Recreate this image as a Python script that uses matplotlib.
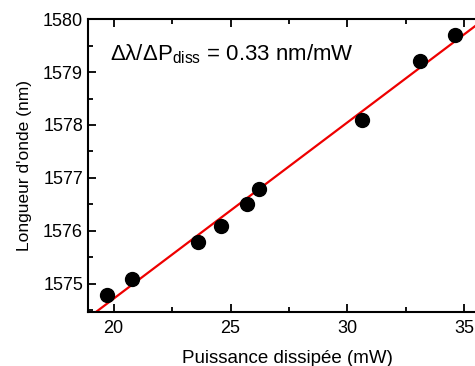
import numpy as np
import matplotlib
matplotlib.use("Agg")
import matplotlib.pyplot as plt
from matplotlib.ticker import MultipleLocator

plt.rcParams['font.family'] = ['Liberation Sans', 'DejaVu Sans']
plt.rcParams['mathtext.fontset'] = 'custom'
plt.rcParams['mathtext.rm'] = 'Liberation Sans'

power = [19.7, 20.8, 23.6, 24.6, 25.7, 26.2, 30.6, 33.1, 34.6]
wavelength = [1574.8, 1575.1, 1575.8, 1576.1, 1576.5, 1576.8, 1578.1, 1579.2, 1579.7]
slope_label = "0.33 nm/mW"

fig = plt.figure(figsize=(4.75, 3.66), dpi=100)
ax = fig.add_axes([0.185, 0.1475, 0.842, 0.8005])

ax.plot(power, wavelength, 'o', color='black', markersize=10, zorder=3)
coef = np.polyfit(power, wavelength, 1)
xf = np.array([18.0, 37.0])
ax.plot(xf, np.polyval(coef, xf), color='#ee0000', lw=1.6, zorder=2)

ax.set_xlim(18.9, 36)
ax.set_ylim(1574.47, 1580)
ax.xaxis.set_major_locator(MultipleLocator(5))
ax.xaxis.set_minor_locator(MultipleLocator(2.5))
ax.yaxis.set_major_locator(MultipleLocator(1))
ax.yaxis.set_minor_locator(MultipleLocator(0.5))
ax.tick_params(which='both', direction='in', top=True, right=True, width=1.3, labelsize=13)
ax.tick_params(which='major', length=6)
ax.tick_params(which='minor', length=3.5)
ax.tick_params(axis='x', pad=6)
for s in ax.spines.values():
    s.set_linewidth(1.5)

ax.set_xlabel("Puissance dissipée (mW)", fontsize=13.5, labelpad=9)
ax.set_ylabel("Longueur d'onde (nm)", fontsize=12.5, labelpad=8)
ax.text(0.055, 0.88, "Δλ/ΔP$_{\\mathrm{diss}}$ = " + slope_label,
        transform=ax.transAxes, fontsize=16, ha='left', va='center')

fig.savefig("out.png", dpi=100)
